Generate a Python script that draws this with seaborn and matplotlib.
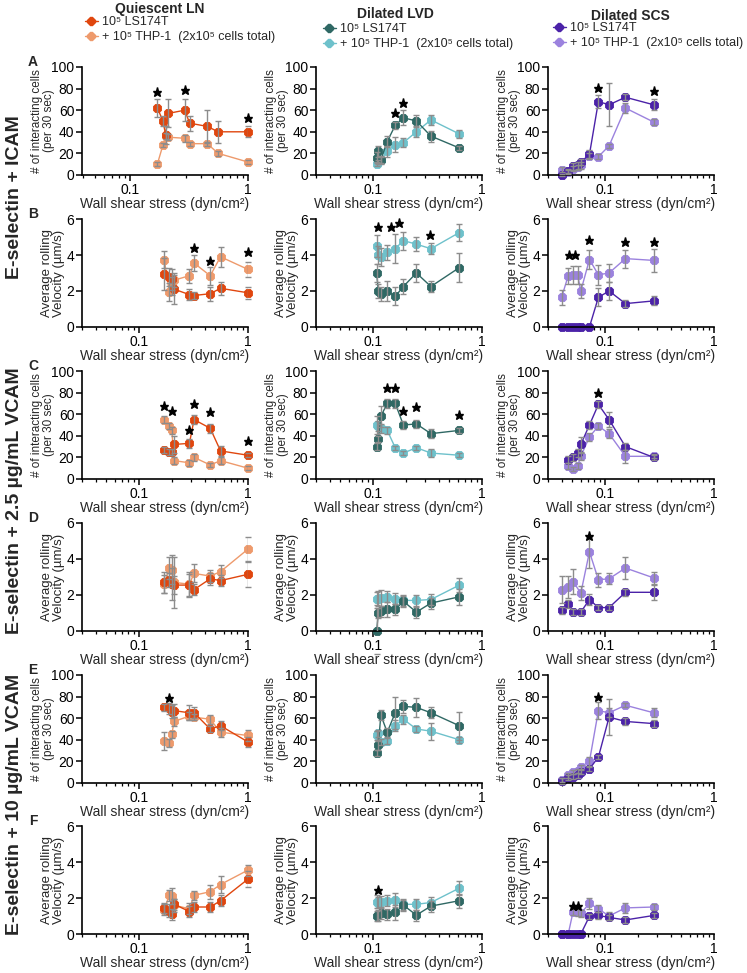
import numpy as np
import matplotlib
matplotlib.use("Agg")
import matplotlib.pyplot as plt
import seaborn as sns
from matplotlib.lines import Line2D
from matplotlib.ticker import FixedLocator, FuncFormatter, LogLocator, NullFormatter

sns.set_theme(style="ticks")
plt.rcParams['font.family'] = ['Liberation Sans', 'DejaVu Sans']

# ---------------- data ----------------
column_titles = ["Quiescent LN", "Dilated LVD", "Dilated SCS"]
series_labels = ["10\u2075 LS174T", "+ 10\u2075 THP-1  (2x10\u2075 cells total)"]
row_titles = ["E-selectin + ICAM", "E-selectin + 2.5 \u00b5g/mL VCAM", "E-selectin + 10 \u00b5g/mL VCAM"]
panel_letters = ["A", "B", "C", "D", "E", "F"]
count_label = "# of interacting cells\n(per 30 sec)"
vel_label = "Average rolling\nVelocity (\u00b5m/s)"
x_label = "Wall shear stress (dyn/cm\u00b2)"
count_ticks = [0, 20, 40, 60, 80, 100]
vel_ticks = [0, 2, 4, 6]

x_ln = [0.17, 0.19, 0.20, 0.21, 0.29, 0.32, 0.45, 0.56, 1.0]
x_lvd = [0.108, 0.112, 0.118, 0.135, 0.16, 0.19, 0.25, 0.34, 0.62]
x_scs = [0.04, 0.046, 0.051, 0.056, 0.06, 0.072, 0.087, 0.109, 0.154, 0.28]
x_scs_c = [0.046, 0.051, 0.056, 0.06, 0.072, 0.087, 0.109, 0.154, 0.28]
x_scs_d = [0.04, 0.046, 0.051, 0.06, 0.072, 0.087, 0.109, 0.154, 0.28]

# Quiescent LN
a1_ls = [62, 50, 37, 57, 60, 48, 45, 40, 40]
a1_ls_err = [8, 5, 8, 13, 10, 7, 15, 10, 5]
a1_thp = [10, 28, 36, 35, 34, 29, 29, 20, 12]
a1_thp_err = [2, 2, 3, 3, 3, 2, 2, 2, 2]
a1_star_x, a1_star_y = [0.17, 0.29, 1.0], [77, 79, 53]

b1_ls = [2.95, 2.8, 2.65, 2.1, 1.8, 1.75, 1.85, 2.15, 1.9]
b1_ls_err = [0.9, 0.5, 0.6, 0.8, 0.3, 0.2, 0.4, 0.35, 0.35]
b1_thp = [3.75, 1.95, 2.3, 2.6, 2.85, 3.55, 2.85, 3.9, 3.2]
b1_thp_err = [0.45, 0.5, 0.5, 0.4, 0.4, 0.45, 0.5, 0.55, 0.4]
b1_star_x, b1_star_y = [0.32, 0.45, 1.0], [4.4, 3.65, 4.15]

c1_ls = [27, 25, 25, 32, 33, 55, 47, 26, 22]
c1_ls_err = [3, 3, 3, 8, 4, 4, 4, 5, 2]
c1_thp = [55, 49, 45, 17, 15, 20, 13, 17, 10]
c1_thp_err = [3, 3, 3, 3, 3, 3, 2, 3, 2]
c1_star_x, c1_star_y = [0.17, 0.20, 0.29, 0.32, 0.45, 1.0], [68, 63, 45, 69, 62, 35]

d1_ls = [2.7, 2.85, 2.6, 2.55, 2.55, 2.3, 2.9, 2.8, 3.15]
d1_ls_err = [0.6, 0.4, 0.9, 0.5, 0.6, 0.3, 0.35, 0.3, 0.7]
d1_thp = [2.6, 3.5, 3.4, 2.7, 2.6, 3.2, 3.05, 3.3, 4.55]
d1_thp_err = [0.5, 0.6, 0.8, 1.4, 0.7, 0.5, 0.35, 0.35, 0.65]
d1_star_x, d1_star_y = [], []

e1_ls = [70, 69, 66, 67, 65, 65, 50, 53, 38]
e1_ls_err = [3, 5, 6, 6, 7, 5, 3, 4, 5]
e1_thp = [39, 37, 45, 57, 62, 61, 59, 47, 44]
e1_thp_err = [8, 4, 3, 4, 4, 3, 4, 4, 5]
e1_star_x, e1_star_y = [0.19], [79]

f1_ls = [1.45, 1.3, 1.1, 1.65, 1.25, 1.5, 1.5, 1.85, 3.05]
f1_ls_err = [0.3, 0.35, 0.3, 0.3, 0.3, 0.3, 0.3, 0.3, 0.45]
f1_thp = [1.35, 2.15, 2.1, 1.6, 1.4, 2.15, 2.35, 2.75, 3.55]
f1_thp_err = [0.3, 0.3, 0.45, 0.35, 0.3, 0.25, 0.4, 0.45, 0.3]
f1_star_x, f1_star_y = [], []

# Dilated LVD
a2_ls = [16, 22, 14, 31, 46, 53, 50, 36, 25]
a2_ls_err = [5, 5, 4, 5, 3, 7, 6, 5, 2]
a2_thp = [10, 12, 14, 22, 28, 30, 40, 51, 38]
a2_thp_err = [2, 2, 3, 5, 7, 4, 5, 5, 4]
a2_star_x, a2_star_y = [0.16, 0.19], [57, 67]

b2_ls = [3.0, 2.0, 1.85, 2.0, 1.7, 2.25, 3.0, 2.25, 3.3]
b2_ls_err = [0.5, 0.4, 0.4, 0.55, 0.5, 0.4, 0.5, 0.3, 0.8]
b2_thp = [4.5, 4.0, 3.9, 4.15, 4.35, 4.8, 4.6, 4.35, 5.25]
b2_thp_err = [0.6, 0.5, 0.5, 0.4, 0.8, 0.5, 0.4, 0.3, 0.45]
b2_star_x, b2_star_y = [0.11, 0.145, 0.175, 0.33], [5.55, 5.55, 5.8, 5.1]

c2_ls = [30, 37, 58, 70, 70, 50, 51, 42, 45]
c2_ls_err = [3, 3, 10, 4, 4, 4, 4, 4, 2]
c2_thp = [50, 49, 47, 45, 29, 24, 29, 24, 22]
c2_thp_err = [8, 5, 4, 3, 2, 2, 2, 4, 2]
c2_star_x, c2_star_y = [0.135, 0.16, 0.19, 0.25, 0.62], [84, 84, 63, 67, 59]

d2_ls = [0, 1.0, 1.1, 1.2, 1.2, 1.65, 1.05, 1.55, 1.9]
d2_ls_err = [1.3, 0.3, 0.3, 0.4, 0.3, 0.3, 0.3, 0.3, 0.45]
d2_thp = [1.8, 1.8, 1.85, 1.9, 1.8, 1.7, 1.7, 1.75, 2.55]
d2_thp_err = [0.35, 0.4, 0.45, 0.3, 0.3, 0.3, 0.3, 0.3, 0.4]
d2_star_x, d2_star_y = [], []

e2_ls = [28, 35, 63, 47, 65, 71, 70, 65, 53]
e2_ls_err = [3, 4, 5, 4, 15, 6, 9, 5, 13]
e2_thp = [44, 46, 38, 39, 53, 59, 50, 48, 40]
e2_thp_err = [4, 3, 3, 3, 5, 4, 3, 8, 3]
e2_star_x, e2_star_y = [], []

f2_ls = [1.0, 1.05, 1.15, 1.1, 1.2, 1.6, 1.05, 1.55, 1.85]
f2_ls_err = [0.3, 0.3, 0.3, 0.3, 0.4, 0.3, 0.3, 0.3, 0.4]
f2_thp = [1.8, 1.75, 1.8, 1.85, 1.9, 1.65, 1.65, 1.75, 2.55]
f2_thp_err = [0.35, 0.3, 0.3, 0.3, 0.4, 0.3, 0.3, 0.3, 0.4]
f2_star_x, f2_star_y = [0.11], [2.45]

# Dilated SCS
a3_ls = [0, 4, 8, 9, 12, 19, 68, 65, 72, 65]
a3_ls_err = [1, 2, 3, 3, 3, 4, 6, 20, 3, 5]
a3_thp = [5, 3, 6, 7, 9, 18, 17, 27, 62, 49]
a3_thp_err = [2, 2, 2, 2, 3, 2, 2, 2, 5, 3]
a3_star_x, a3_star_y = [0.087, 0.28], [81, 78]

b3_ls = [0, 0, 0, 0, 0, 0, 1.65, 2.0, 1.3, 1.45]
b3_ls_err = [0, 0, 0, 0, 0, 0, 0.5, 0.5, 0.2, 0.25]
b3_thp = [1.65, 2.85, 2.9, 2.9, 2.0, 3.75, 2.9, 3.0, 3.8, 3.7]
b3_thp_err = [0.4, 0.45, 0.5, 0.5, 0.4, 0.55, 0.55, 0.5, 0.5, 0.65]
b3_star_x, b3_star_y = [0.047, 0.053, 0.072, 0.154, 0.28], [4.0, 4.0, 4.85, 4.7, 4.7]

c3_ls = [18, 20, 24, 32, 50, 69, 55, 30, 20]
c3_ls_err = [3, 3, 4, 7, 4, 3, 7, 3, 2]
c3_thp = [12, 9, 12, 21, 39, 49, 42, 21, 21]
c3_thp_err = [3, 2, 3, 3, 4, 3, 4, 6, 2]
c3_star_x, c3_star_y = [0.087], [80]

d3_ls = [1.15, 1.5, 1.05, 1.05, 1.75, 1.3, 1.3, 2.15, 2.15]
d3_ls_err = [0.2, 0.2, 0.15, 0.15, 0.3, 0.15, 0.15, 0.2, 0.4]
d3_thp = [2.3, 2.45, 2.75, 2.1, 4.4, 2.85, 2.9, 3.5, 2.95]
d3_thp_err = [0.75, 0.6, 0.7, 0.4, 0.9, 0.4, 0.3, 0.6, 0.35]
d3_star_x, d3_star_y = [0.072], [5.3]

e3_ls = [2, 5, 6, 7, 10, 13, 24, 61, 57, 55]
e3_ls_err = [3, 2, 2, 2, 2, 2, 2, 17, 3, 3]
e3_thp = [3, 7, 10, 11, 15, 20, 67, 65, 72, 65]
e3_thp_err = [2, 2, 2, 2, 2, 4, 8, 4, 2, 4]
e3_star_x, e3_star_y = [0.087], [80]

f3_ls = [0, 0, 0, 0, 0, 0.98, 1.03, 0.92, 0.78, 1.03]
f3_ls_err = [0, 0, 0, 0, 0, 0.15, 0.2, 0.15, 0.15, 0.15]
f3_thp = [0, 0, 1.25, 1.2, 1.15, 1.7, 1.4, 1.0, 1.45, 1.5]
f3_thp_err = [0, 0, 0.2, 0.2, 0.2, 0.3, 0.2, 0.2, 0.3, 0.15]
f3_star_x, f3_star_y = [0.051, 0.056], [1.55, 1.55]

panels = [
    (0, 0, x_ln, a1_ls, a1_ls_err, a1_thp, a1_thp_err, a1_star_x, a1_star_y),
    (1, 0, x_ln, b1_ls, b1_ls_err, b1_thp, b1_thp_err, b1_star_x, b1_star_y),
    (2, 0, x_ln, c1_ls, c1_ls_err, c1_thp, c1_thp_err, c1_star_x, c1_star_y),
    (3, 0, x_ln, d1_ls, d1_ls_err, d1_thp, d1_thp_err, d1_star_x, d1_star_y),
    (4, 0, x_ln, e1_ls, e1_ls_err, e1_thp, e1_thp_err, e1_star_x, e1_star_y),
    (5, 0, x_ln, f1_ls, f1_ls_err, f1_thp, f1_thp_err, f1_star_x, f1_star_y),
    (0, 1, x_lvd, a2_ls, a2_ls_err, a2_thp, a2_thp_err, a2_star_x, a2_star_y),
    (1, 1, x_lvd, b2_ls, b2_ls_err, b2_thp, b2_thp_err, b2_star_x, b2_star_y),
    (2, 1, x_lvd, c2_ls, c2_ls_err, c2_thp, c2_thp_err, c2_star_x, c2_star_y),
    (3, 1, x_lvd, d2_ls, d2_ls_err, d2_thp, d2_thp_err, d2_star_x, d2_star_y),
    (4, 1, x_lvd, e2_ls, e2_ls_err, e2_thp, e2_thp_err, e2_star_x, e2_star_y),
    (5, 1, x_lvd, f2_ls, f2_ls_err, f2_thp, f2_thp_err, f2_star_x, f2_star_y),
    (0, 2, x_scs, a3_ls, a3_ls_err, a3_thp, a3_thp_err, a3_star_x, a3_star_y),
    (1, 2, x_scs, b3_ls, b3_ls_err, b3_thp, b3_thp_err, b3_star_x, b3_star_y),
    (2, 2, x_scs_c, c3_ls, c3_ls_err, c3_thp, c3_thp_err, c3_star_x, c3_star_y),
    (3, 2, x_scs_d, d3_ls, d3_ls_err, d3_thp, d3_thp_err, d3_star_x, d3_star_y),
    (4, 2, x_scs, e3_ls, e3_ls_err, e3_thp, e3_thp_err, e3_star_x, e3_star_y),
    (5, 2, x_scs, f3_ls, f3_ls_err, f3_thp, f3_thp_err, f3_star_x, f3_star_y),
]

# ---------------- style / layout ----------------
W, H = 747, 973
fig = plt.figure(figsize=(W / 100, H / 100), dpi=100)
fig.patch.set_facecolor("white")

col_left = [82, 316, 548]
row_top = [67, 219, 371, 523, 675, 826]
AW, AH = 166, 108
palette = [("#E0460E", "#EE9A6C"), ("#2F6864", "#6EC1CB"), ("#4B22A8", "#9B82DE")]
err_color = "#8C8C8C"


def fx(px):
    return px / W


def fy(py):
    return 1 - py / H


for (r, c, x, ls, lse, th, the, sx, sy) in panels:
    ax = fig.add_axes([fx(col_left[c]), fy(row_top[r] + AH), AW / W, AH / H])
    dark, light = palette[c]
    for yy, ee, colr in [(th, the, light), (ls, lse, dark)]:
        sns.lineplot(x=x, y=yy, ax=ax, color=colr, marker='8', markersize=7,
                     markeredgecolor=colr, markeredgewidth=0.6, linewidth=1.0,
                     estimator=None, legend=False)
        xe = [xi for xi, e in zip(x, ee) if e > 0]
        ye = [yi for yi, e in zip(yy, ee) if e > 0]
        ee2 = [e for e in ee if e > 0]
        ax.errorbar(xe, ye, yerr=ee2, fmt='none', ecolor=err_color,
                    elinewidth=1.0, capsize=2.5, capthick=1.0, zorder=3)
    for ln in ax.lines:
        ln.set_clip_on(False)
    if sx:
        ax.plot(sx, sy, linestyle='none', marker='*', color='black',
                markersize=6.5, zorder=6, clip_on=False)

    ax.set_xscale('log')
    ax.set_xlim(0.039 if (r == 0 and c == 0) else 0.03, 1.0)
    ax.xaxis.set_major_locator(FixedLocator([0.1, 1.0]))
    ax.xaxis.set_major_formatter(FuncFormatter(lambda v, p: f"{v:g}"))
    ax.xaxis.set_minor_locator(LogLocator(base=10, subs=np.arange(2, 10)))
    ax.xaxis.set_minor_formatter(NullFormatter())

    is_count = (r % 2 == 0)
    if is_count:
        ax.set_ylim(0, 100)
        ax.set_yticks(count_ticks)
        ax.set_ylabel(count_label, fontsize=8.5, linespacing=1.0)
        ax.yaxis.set_label_coords(-0.165, 0.5)
    else:
        ax.set_ylabel(vel_label, fontsize=9.5, linespacing=1.0)
        ax.set_ylim(0, 6)
        ax.set_yticks(vel_ticks)
        ax.yaxis.set_label_coords(-0.105, 0.5)
    ax.set_xlabel(x_label, fontsize=10, labelpad=0.5)

    sns.despine(ax=ax)
    for s in ['left', 'bottom']:
        ax.spines[s].set_color('black')
        ax.spines[s].set_linewidth(1.2)
    ax.tick_params(axis='both', which='major', direction='out', length=4, width=1.1,
                   color='black', labelsize=10, pad=1.5, labelcolor='black')
    ax.tick_params(axis='x', which='minor', direction='out', length=2.5, width=0.9,
                   color='black')
    ax.set_facecolor('white')
    ax.grid(False)

# panel letters
for r, letter in enumerate(panel_letters):
    fig.text(fx(33), fy(row_top[r] - 5), letter, fontsize=10, fontweight='bold',
             ha='center', va='center')

# row titles
row_centers = [(row_top[0] + row_top[1] + AH) / 2, (row_top[2] + row_top[3] + AH) / 2,
               (row_top[4] + row_top[5] + AH) / 2]
for t, yc in zip(row_titles, row_centers):
    fig.text(fx(15), fy(yc), t, rotation=90, fontsize=14, fontweight='bold',
             ha='center', va='center')

# column titles and legends
title_pos = [(160, 9), (395, 14), (630, 16)]
legend_pos = [(85, 16), (323, 23), (553, 22)]
for c in range(3):
    tx, ty = title_pos[c]
    fig.text(fx(tx), fy(ty), column_titles[c], fontsize=10, fontweight='bold',
             ha='center', va='center')
    dark, light = palette[c]
    handles = [Line2D([], [], color=dark, marker='8', markersize=5.5, lw=1.0),
               Line2D([], [], color=light, marker='8', markersize=5.5, lw=1.0)]
    lx, ly = legend_pos[c]
    fig.legend(handles, series_labels, loc='upper left', bbox_to_anchor=(fx(lx), fy(ly)),
               frameon=False, fontsize=9, handlelength=1.0, handletextpad=0.4,
               labelspacing=0.25, borderpad=0, borderaxespad=0)

fig.savefig("out.png", dpi=100, facecolor="white")
